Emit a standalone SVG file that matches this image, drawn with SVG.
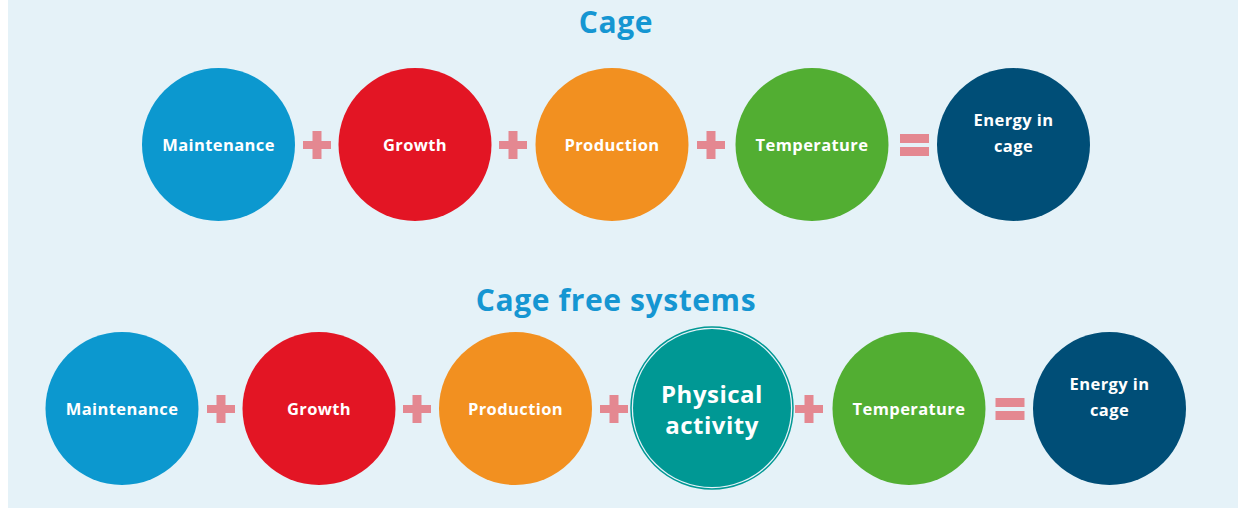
<svg xmlns="http://www.w3.org/2000/svg" width="1243" height="508" viewBox="0 0 1243 508">
<style>
.t{font-family:"Open Sans","Liberation Sans",sans-serif;font-weight:700;fill:#fff;text-anchor:middle;font-size:16.5px;letter-spacing:0.4px}
.h{font-family:"Open Sans","Liberation Sans",sans-serif;font-weight:700;fill:#1596d2;text-anchor:middle;font-size:30px;letter-spacing:0.6px}
.op{fill:#e48891}
</style>
<defs>
<g id="plus"><rect x="-14" y="-4" width="28" height="8"/><rect x="-4.5" y="-14" width="9" height="28"/></g>
<g id="eq"><rect x="-14.5" y="-11" width="29" height="9"/><rect x="-14.5" y="2" width="29" height="9"/></g>
</defs>
<rect x="0" y="0" width="1243" height="508" fill="#fff"/>
<rect x="8" y="0" width="1230" height="508" fill="#e5f2f8"/>
<text class="h" x="616" y="33">Cage</text>
<text class="h" x="616" y="311">Cage free systems</text>

<g id="r1-maintenance"><circle cx="218.5" cy="144.5" r="76.5" fill="#0c98cf"/><text class="t" x="218.5" y="151">Maintenance</text></g>
<g id="r1-growth"><circle cx="415" cy="144.5" r="76.5" fill="#e31524"/><text class="t" x="415" y="151">Growth</text></g>
<g id="r1-production"><circle cx="612" cy="144.5" r="76.5" fill="#f29020"/><text class="t" x="612" y="151">Production</text></g>
<g id="r1-temperature"><circle cx="812" cy="144.5" r="76.5" fill="#52ae32"/><text class="t" x="812" y="151">Temperature</text></g>
<g id="r1-energy"><circle cx="1013.5" cy="144.5" r="76.5" fill="#004e77"/><text class="t" x="1013.5" y="126">Energy in</text><text class="t" x="1013.5" y="152">cage</text></g>

<g id="r2-maintenance"><circle cx="122" cy="408.5" r="76.5" fill="#0c98cf"/><text class="t" x="122" y="415">Maintenance</text></g>
<g id="r2-growth"><circle cx="319" cy="408.5" r="76.5" fill="#e31524"/><text class="t" x="319" y="415">Growth</text></g>
<g id="r2-production"><circle cx="515.5" cy="408.5" r="76.5" fill="#f29020"/><text class="t" x="515.5" y="415">Production</text></g>
<g id="r2-physical"><circle cx="712" cy="408" r="81" fill="none" stroke="#009894" stroke-width="1.5"/><circle cx="712" cy="408" r="79" fill="#009894"/><text class="t" x="712" y="403" style="font-size:24px;letter-spacing:0.5px">Physical</text><text class="t" x="712" y="434" style="font-size:24px;letter-spacing:0.5px">activity</text></g>
<g id="r2-temperature"><circle cx="909" cy="408.5" r="76.5" fill="#52ae32"/><text class="t" x="909" y="415">Temperature</text></g>
<g id="r2-energy"><circle cx="1109.5" cy="408.5" r="76.5" fill="#004e77"/><text class="t" x="1109.5" y="390">Energy in</text><text class="t" x="1109.5" y="416">cage</text></g>

<g id="connectors" class="op">
<use href="#plus" x="317" y="145"/>
<use href="#plus" x="513" y="145"/>
<use href="#plus" x="711" y="145"/>
<use href="#eq" x="914.5" y="145"/>
<use href="#plus" x="221" y="409"/>
<use href="#plus" x="417" y="409"/>
<use href="#plus" x="614" y="409"/>
<use href="#plus" x="809" y="409"/>
<use href="#eq" x="1010" y="409"/>
</g>
</svg>
